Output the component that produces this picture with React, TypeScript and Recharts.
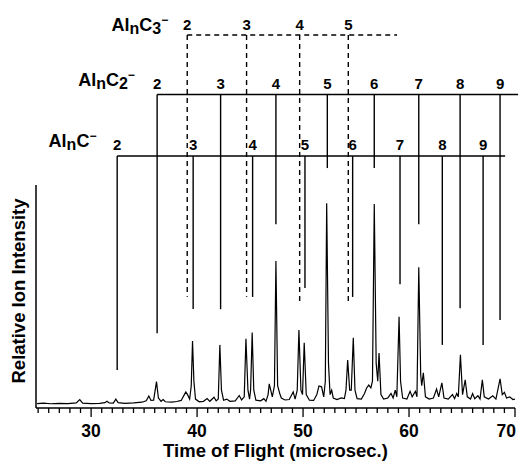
import { ComposedChart, Line, XAxis, YAxis, ReferenceLine, ReferenceDot } from 'recharts';

const FONT = '"Liberation Sans", Arial, Helvetica, sans-serif';

// x axis
const majorTicks = [30, 40, 50, 60, 70];
const minorTicks = Array.from({ length: 46 }, (_, i) => 25 + i);

// cluster sizes n for each ladder
const clusterSizes = [2, 3, 4, 5, 6, 7, 8, 9];
const c3Sizes = [2, 3, 4, 5];

// Al_nC- assignment lines: flight time and where the line stops
const alcTimes = [32.46, 39.63, 45.24, 50.18, 54.68, 59.15, 63.14, 66.99];
const alcEnds = [17.0, 44.4, 49.8, 53.8, 49.8, 55.5, 28.3, 28.3];

// Al_nC2-
const alc2Times = [36.23, 42.22, 47.44, 52.29, 56.72, 60.92, 64.82, 68.59];
const alc2Ends = [33.5, 44.3, 82.4, 107.6, 107.6, 82.4, 44.7, 39.5];

// Al_nC3- (dashed)
const alc3Times = [39.07, 44.67, 49.68, 54.27];
const alc3Ends = [49.9, 49.9, 47.7, 47.7];

// spectrum, [time of flight, relative intensity]
const spectrum: [number, number][] = [
  [24.9, 2.0], [25.5, 2.2], [26.2, 1.9], [27.0, 2.1], [27.8, 2.0], [28.6, 2.3], [28.93, 3.8], [29.2, 2.2],
  [30.0, 2.0], [30.8, 2.1], [31.3, 2.4], [31.5, 3.0], [31.7, 2.3], [32.1, 2.2], [32.33, 4.0], [32.55, 2.4],
  [33.2, 2.1], [34.0, 2.3], [34.8, 2.6], [35.2, 3.2], [35.45, 5.4], [35.65, 3.4], [35.9, 3.5], [36.17, 11.8],
  [36.35, 4.5], [36.6, 3.0], [36.8, 3.8], [37.0, 2.8], [37.6, 2.6], [38.1, 2.9], [38.5, 3.4], [38.8, 6.0],
  [38.94, 7.2], [39.1, 6.0], [39.3, 4.0], [39.45, 10], [39.57, 30.0], [39.7, 12], [39.85, 4.0], [40.2, 2.8],
  [40.6, 3.0], [40.95, 4.2], [41.2, 3.0], [41.6, 4.8], [41.8, 3.2], [42.0, 4.0], [42.15, 28.3], [42.3, 8.0],
  [42.5, 3.5], [42.8, 4.0], [43.1, 3.0], [43.6, 3.2], [43.98, 5.6], [44.2, 3.6], [44.45, 5.0], [44.61, 31.1],
  [44.8, 8.0], [44.95, 4.0], [45.05, 8.0], [45.2, 33.8], [45.35, 8.0], [45.55, 3.5], [46.0, 3.2], [46.3, 4.2],
  [46.5, 3.0], [46.7, 6.0], [46.81, 10.8], [46.95, 8.0], [47.1, 5.0], [47.3, 10], [47.44, 65.9], [47.6, 10],
  [47.8, 6.5], [47.95, 4.5], [48.3, 3.6], [48.7, 3.8], [49.07, 7.2], [49.25, 4.0], [49.45, 8.0], [49.61, 35.0],
  [49.8, 8.0], [49.95, 6.0], [50.11, 29.3], [50.3, 6.0], [50.6, 3.5], [51.0, 3.4], [51.3, 6.0], [51.5, 9.9],
  [51.75, 9.5], [51.95, 5.0], [52.1, 12], [52.23, 91.8], [52.4, 20], [52.55, 6.0], [52.7, 8.0], [52.85, 4.5],
  [53.2, 3.8], [53.6, 4.5], [53.9, 4.2], [54.05, 8.0], [54.21, 21.5], [54.4, 8.0], [54.55, 8.0], [54.74, 31.5],
  [54.9, 8.0], [55.1, 4.2], [55.5, 4.0], [55.8, 6.5], [56.0, 9.0], [56.2, 10.3], [56.4, 9.0], [56.55, 12],
  [56.72, 91.5], [56.9, 20], [57.05, 12], [57.17, 24.7], [57.35, 6.0], [57.6, 4.0], [58.0, 4.5], [58.3, 6.5],
  [58.5, 4.5], [58.7, 8.0], [58.85, 5.0], [59.06, 40.9], [59.2, 12], [59.4, 4.5], [59.8, 4.0], [60.1, 7.5],
  [60.3, 5.0], [60.6, 7.5], [60.75, 5.0], [60.92, 63.1], [61.1, 15], [61.2, 10], [61.35, 15.8], [61.55, 5.0],
  [61.9, 4.0], [62.3, 4.5], [62.6, 8.5], [62.8, 5.0], [63.1, 11.3], [63.3, 4.5], [63.7, 4.0], [64.1, 6.0],
  [64.3, 4.2], [64.5, 6.5], [64.65, 5.0], [64.85, 23.9], [65.05, 6.0], [65.3, 12.6], [65.5, 5.0], [65.8, 4.0],
  [66.0, 6.5], [66.2, 4.2], [66.5, 5.5], [66.7, 4.0], [66.92, 12.6], [67.1, 5.0], [67.5, 4.0], [67.9, 5.5],
  [68.2, 4.0], [68.59, 13.1], [68.8, 6.0], [69.0, 7.0], [69.2, 4.5], [69.5, 5.0], [69.8, 3.8], [70.0, 4.0],
];

const chartData = spectrum.map(([t, v]) => ({ t, v }));

const X0 = 24.8;

function TickMark(props: any) {
  const { x, y, payload } = props;
  const major = majorTicks.includes(payload.value);
  const last = payload.value === majorTicks[majorTicks.length - 1];
  return (
    <g>
      <line x1={x} x2={x} y1={y} y2={y + (major ? 9 : 5)} stroke="#000" strokeWidth={1.3} />
      {major && (
        <text
          x={last ? x + 1 : x}
          y={y + 29}
          textAnchor={last ? 'end' : 'middle'}
          fontSize={17.5}
          fontWeight="bold"
          fontFamily={FONT}
          fill="#000"
        >
          {payload.value}
        </text>
      )}
    </g>
  );
}

function numberLabel(n: number) {
  return (p: any) => (
    <text x={p.cx} y={p.cy} textAnchor="middle" fontSize={15} fontWeight="bold" fontFamily={FONT} fill="#000">
      {n}
    </text>
  );
}

function formulaLabel(sub: string) {
  return (p: any) => (
    <text x={p.cx} y={p.cy} textAnchor="end" fontSize={18} fontWeight="bold" fontFamily={FONT} fill="#000">
      Al
      <tspan fontSize={16} dy={3}>n</tspan>
      <tspan dy={-3}>C</tspan>
      {sub && <tspan fontSize={16} dy={3}>{sub}</tspan>}
      <tspan fontSize={12} dy={sub ? -10 : -7}>−</tspan>
    </text>
  );
}

export default function App() {
  const ladder = (
    times: number[],
    ends: number[],
    sizes: number[],
    level: number,
    labelY: number,
    rowEnd: number,
    dash?: string,
    key?: string
  ) => {
    const out: any[] = [];
    out.push(
      <ReferenceLine
        key={key + 'row'}
        segment={[{ x: times[0], y: level }, { x: rowEnd, y: level }]}
        stroke="#000"
        strokeWidth={1.4}
        strokeDasharray={dash}
        ifOverflow="visible"
      />
    );
    times.forEach((t, i) => {
      out.push(
        <ReferenceLine
          key={key + 'v' + i}
          segment={[{ x: t, y: level }, { x: t, y: ends[i] }]}
          stroke="#000"
          strokeWidth={1.4}
          strokeDasharray={dash}
          ifOverflow="visible"
        />
      );
      out.push(
        <ReferenceDot key={key + 'n' + i} x={t} y={labelY} r={0} ifOverflow="visible" shape={numberLabel(sizes[i])} />
      );
    });
    return out;
  };

  return (
    <div style={{ position: 'absolute', left: 0, top: 0, width: 523, height: 462, background: '#fff' }}>
      <ComposedChart width={523} height={462} data={chartData} margin={{ top: 20, right: 8, bottom: 0, left: 0 }}>
        <XAxis
          type="number"
          dataKey="t"
          domain={[X0, 70]}
          ticks={minorTicks}
          interval={0}
          allowDataOverflow
          tick={<TickMark />}
          tickLine={false}
          tickSize={0}
          tickMargin={0}
          axisLine={{ stroke: '#000', strokeWidth: 1.5 }}
          height={54}
          label={{
            content: (p: any) => (
              <text
                x={p.viewBox.x + p.viewBox.width / 2}
                y={p.viewBox.y + 49}
                textAnchor="middle"
                fontSize={18.5}
                fontWeight="bold"
                fontFamily={FONT}
                fill="#000"
              >
                Time of Flight (microsec.)
              </text>
            ),
          }}
        />
        <YAxis
          type="number"
          domain={[0, 174]}
          allowDataOverflow
          width={36}
          tick={false}
          tickLine={false}
          axisLine={false}
          label={{
            content: (p: any) => {
              const cx = p.viewBox.x + 25;
              const cy = p.viewBox.y + p.viewBox.height - 117;
              return (
                <text
                  x={cx}
                  y={cy}
                  transform={`rotate(-90 ${cx} ${cy})`}
                  textAnchor="middle"
                  fontSize={18.5}
                  fontWeight="bold"
                  fontFamily={FONT}
                  fill="#000"
                >
                  Relative Ion Intensity
                </text>
              );
            },
          }}
        />
        <ReferenceLine
          segment={[{ x: X0, y: 0 }, { x: X0, y: 100 }]}
          stroke="#000"
          strokeWidth={1.5}
          ifOverflow="visible"
        />
        <Line type="linear" dataKey="v" stroke="#000" strokeWidth={1.2} dot={false} isAnimationActive={false} />
        {ladder(alcTimes, alcEnds, clusterSizes, 113.0, 115.7, 69.07, undefined, 'c1')}
        {ladder(alc2Times, alc2Ends, clusterSizes, 140.6, 143.0, 70.29, undefined, 'c2')}
        {ladder(alc3Times, alc3Ends, c3Sizes, 167.3, 169.5, 58.87, '5 4', 'c3')}
        <ReferenceDot x={30.5} y={117.0} r={0} ifOverflow="visible" shape={formulaLabel('')} />
        <ReferenceDot x={34.13} y={144.4} r={0} ifOverflow="visible" shape={formulaLabel('2')} />
        <ReferenceDot x={37.27} y={169.1} r={0} ifOverflow="visible" shape={formulaLabel('3')} />
      </ComposedChart>
    </div>
  );
}
